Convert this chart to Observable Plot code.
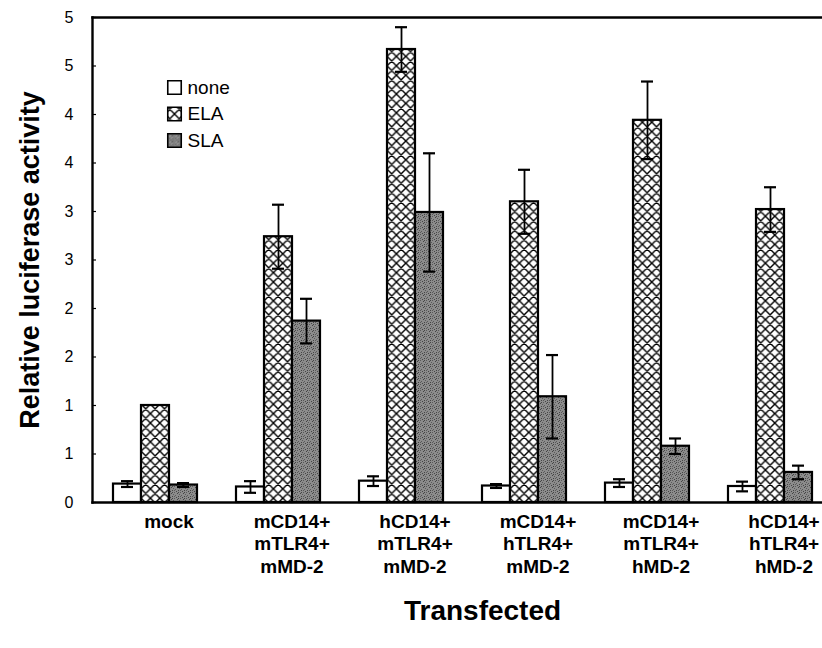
<!DOCTYPE html>
<html>
<head>
<meta charset="utf-8">
<script src="https://cdn.jsdelivr.net/npm/d3@7"></script>
<script src="https://cdn.jsdelivr.net/npm/@observablehq/plot@0.6"></script>
<style>
  html, body { margin: 0; padding: 0; background: #fff; overflow: hidden; }
  #chart svg { display: block; }
</style>
</head>
<body>
<div id="chart"></div>
<script>
// ---- data ----
const groups = [
  "mock",
  "mCD14+\nmTLR4+\nmMD-2",
  "hCD14+\nmTLR4+\nmMD-2",
  "mCD14+\nhTLR4+\nmMD-2",
  "mCD14+\nmTLR4+\nhMD-2",
  "hCD14+\nhTLR4+\nhMD-2"
];
const series = ["none", "ELA", "SLA"];
const noneValues = [0.19, 0.16, 0.22, 0.17, 0.20, 0.165];
const noneErrors = [0.03, 0.06, 0.05, 0.02, 0.04, 0.05];
const elaValues  = [1.00, 2.74, 4.67, 3.10, 3.94, 3.02];
const elaErrors  = [0.00, 0.33, 0.23, 0.33, 0.40, 0.23];
const slaValues  = [0.18, 1.87, 2.99, 1.09, 0.58, 0.31];
const slaErrors  = [0.02, 0.23, 0.61, 0.43, 0.08, 0.07];
const yTickValues = [0, 0.5, 1, 1.5, 2, 2.5, 3, 3.5, 4, 4.5, 5];
const yTickLabels = ["0", "1", "1", "2", "2", "3", "3", "4", "4", "5", "5"];
const yLabel = "Relative luciferase activity";
const xLabel = "Transfected";

// ---- table built from arrays ----
const valueArrays = {none: noneValues, ELA: elaValues, SLA: slaValues};
const errorArrays = {none: noneErrors, ELA: elaErrors, SLA: slaErrors};
const rows = [];
groups.forEach((g, i) => series.forEach(s => rows.push({
  group: g, series: s, value: valueArrays[s][i], err: errorArrays[s][i]
})));
const errRows = rows.filter(d => d.err > 0);

const fills = {none: "#ffffff", ELA: "url(#hatch)", SLA: "url(#stipple)"};
const font = "'Liberation Sans', Arial, sans-serif";

const legendMarks = series.flatMap((s, i) => [
  Plot.dot([s], {frameAnchor: "top-left", dx: 82, dy: 70 + i * 26.5, symbol: "square",
    r: 7.6, fill: fills[s], stroke: "#000", strokeWidth: 1.6, facet: "super"}),
  Plot.text([s], {frameAnchor: "top-left", dx: 95, dy: 70 + i * 26.5, text: d => d,
    textAnchor: "start", lineAnchor: "middle", fontSize: 19, fill: "#000", facet: "super"})
]);

const chart = Plot.plot({
  width: 822,
  height: 648,
  marginLeft: 92,
  marginRight: 0,
  marginTop: 17,
  marginBottom: 146,
  style: {fontFamily: font, background: "#fff", color: "#000"},
  fx: {domain: groups, range: [92, 830], paddingInner: 0, paddingOuter: 0, label: null},
  x: {domain: series, paddingInner: 0, paddingOuter: 0.696, align: 0.538, axis: null},
  y: {domain: [0, 5], label: null},
  marks: [
    Plot.axisY({ticks: yTickValues, tickSize: 0, tickPadding: 19,
      tickFormat: d => yTickLabels[yTickValues.indexOf(d)], fontSize: 16, label: null}),
    Plot.axisY({ticks: yTickValues, tickSize: -4, tickFormat: () => "", label: null, strokeWidth: 1.2}),
    Plot.axisFx({anchor: "bottom", tickSize: 0, tickPadding: 9, fontSize: 19, fontWeight: "bold",
      lineHeight: 1.2, dx: 15, label: null}),
    Plot.barY(rows, {fx: "group", x: "series", y: "value",
      fill: d => fills[d.series], stroke: "#000", strokeWidth: 2.2}),
    Plot.ruleX(errRows, {fx: "group", x: "series", y1: d => d.value - d.err, y2: d => d.value + d.err,
      stroke: "#000", strokeWidth: 1.8}),
    Plot.tickY(errRows, {fx: "group", x: "series", y: d => d.value + d.err,
      stroke: "#000", strokeWidth: 2.2, insetLeft: 8, insetRight: 8}),
    Plot.tickY(errRows, {fx: "group", x: "series", y: d => d.value - d.err,
      stroke: "#000", strokeWidth: 2.2, insetLeft: 8, insetRight: 8}),
    Plot.frame({anchor: "top", stroke: "#000", strokeWidth: 2.4, facet: "super"}),
    Plot.frame({anchor: "bottom", stroke: "#000", strokeWidth: 2.4, facet: "super"}),
    Plot.frame({anchor: "left", stroke: "#000", strokeWidth: 2.4, facet: "super"}),
    Plot.text([yLabel], {frameAnchor: "left", rotate: -90, dx: -62, text: d => d,
      textAnchor: "middle", lineAnchor: "middle",
      fontSize: 27, fontWeight: "bold", fill: "#000", facet: "super"}),
    Plot.text([xLabel], {frameAnchor: "bottom", dx: 21, dy: 109, text: d => d,
      textAnchor: "middle", lineAnchor: "middle",
      fontSize: 28, fontWeight: "bold", fill: "#000", facet: "super"}),
    ...legendMarks
  ]
});

// pattern definitions used by the bar fills
const defs = d3.select(chart).insert("defs", ":first-child");
const hatch = defs.append("pattern").attr("id", "hatch").attr("patternUnits", "userSpaceOnUse")
  .attr("width", 9.4).attr("height", 9.4);
hatch.append("rect").attr("width", 9.4).attr("height", 9.4).attr("fill", "#fff");
hatch.append("path").attr("d", "M0,0L9.4,9.4M9.4,0L0,9.4M-1,8.4L1,10.4M8.4,-1L10.4,1M-1,1L1,-1M8.4,10.4L10.4,8.4")
  .attr("stroke", "#000").attr("stroke-width", 1.4);
const stip = defs.append("pattern").attr("id", "stipple").attr("patternUnits", "userSpaceOnUse")
  .attr("width", 6).attr("height", 6);
stip.append("rect").attr("width", 6).attr("height", 6).attr("fill", "#8c8c8c");
[[0,0],[3,1],[1,3],[4,4],[5,2],[2,5],[0,4],[4,0]].forEach(([px, py], k) =>
  stip.append("rect").attr("x", px).attr("y", py).attr("width", 1).attr("height", 1)
    .attr("fill", k % 2 ? "#444" : "#5a5a5a"));

document.getElementById("chart").append(chart);
</script>
</body>
</html>
